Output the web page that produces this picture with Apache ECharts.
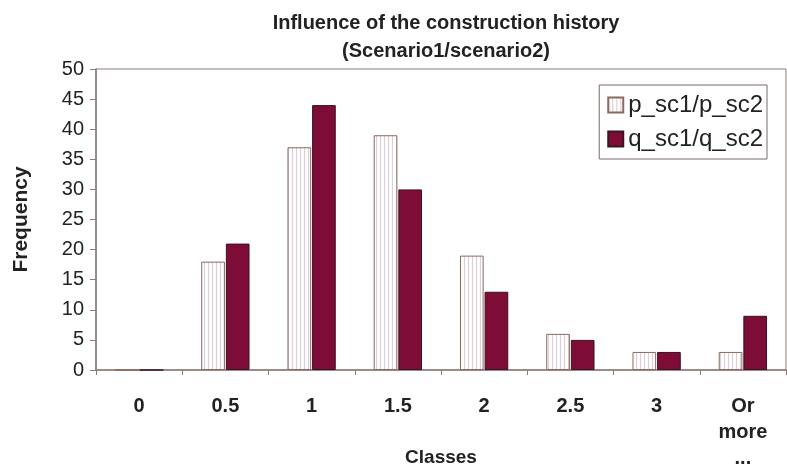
<!DOCTYPE html>
<html>
<head>
<meta charset="utf-8">
<script src="https://cdn.jsdelivr.net/npm/echarts@6/dist/echarts.min.js"></script>
<style>
  html, body { margin: 0; padding: 0; background: #fff; }
  #main { width: 787px; height: 473px; }
</style>
</head>
<body>
<div id="main"></div>
<script>
// data
const classes = ["0", "0.5", "1", "1.5", "2", "2.5", "3", "Or\nmore\n..."];
const pValues = [0, 18, 37, 39, 19, 6, 3, 3];
const qValues = [0, 21, 44, 30, 13, 5, 3, 9];
const yTicks = [0, 5, 10, 15, 20, 25, 30, 35, 40, 45, 50];

// white bars with thin vertical hatching
const makeHatch = () => {
  const c = document.createElement("canvas");
  c.width = 4;
  c.height = 4;
  const ctx = c.getContext("2d");
  ctx.fillStyle = "#fdfbfc";
  ctx.fillRect(0, 0, 4, 4);
  ctx.fillStyle = "#d9cfd6";
  ctx.fillRect(0, 0, 1, 4);
  return c;
};

const font = "'Liberation Sans Narrow', 'Liberation Sans', Arial, sans-serif";
const myChart = echarts.init(document.getElementById("main"));

const option = {
  animation: false,
  backgroundColor: "#fff",
  title: {
    text: "Influence of the construction history\n(Scenario1/scenario2)",
    left: 441,
    top: 4,
    textAlign: "center",
    textStyle: {
      fontFamily: font,
      fontWeight: "bold",
      fontSize: 20,
      lineHeight: 28,
      color: "#222",
    },
  },
  legend: {
    right: 20,
    top: 85,
    orient: "vertical",
    icon: "rect",
    itemWidth: 15,
    itemHeight: 15,
    itemGap: 10,
    padding: [8, 4, 8, 8],
    borderColor: "#7a6a66",
    borderWidth: 1,
    textStyle: { fontFamily: "'Liberation Sans', Arial, sans-serif", fontSize: 24, color: "#222" },
    data: ["p_sc1/p_sc2", "q_sc1/q_sc2"],
  },
  grid: {
    left: 96,
    right: 1,
    top: 69,
    bottom: 103,
    containLabel: false,
    outerBoundsMode: "none",
    show: true,
    borderColor: "#8a7c78",
    borderWidth: 1,
  },
  xAxis: {
    type: "category",
    data: classes,
    name: "Classes",
    nameLocation: "middle",
    nameGap: 78,
    nameMoveOverlap: false,
    nameTextStyle: { fontFamily: font, fontWeight: "bold", fontSize: 19, color: "#222" },
    axisLine: { lineStyle: { color: "#8a7c78", width: 1.5 } },
    axisTick: { show: true, length: 5, lineStyle: { color: "#8a7c78" } },
    axisLabel: {
      fontFamily: font,
      fontWeight: "bold",
      fontSize: 20,
      color: "#222",
      margin: 23,
      lineHeight: 26,
      verticalAlign: "top",
    },
  },
  yAxis: {
    type: "value",
    min: 0,
    max: 50,
    interval: 5,
    name: "Frequency",
    nameLocation: "middle",
    nameGap: 64,
    nameMoveOverlap: false,
    nameTextStyle: { fontFamily: font, fontWeight: "bold", fontSize: 21, color: "#222" },
    axisLine: { show: true, lineStyle: { color: "#8a7c78", width: 1.5 } },
    axisTick: { show: true, length: 6, lineStyle: { color: "#8a7c78" } },
    splitLine: { show: false },
    axisLabel: {
      fontFamily: "'Liberation Sans', Arial, sans-serif",
      fontSize: 20,
      color: "#222",
      margin: 12,
      formatter: (v) => (yTicks.includes(v) ? String(v) : ""),
    },
  },
  series: [
    {
      name: "p_sc1/p_sc2",
      type: "bar",
      data: pValues,
      barGap: "4%",
      barCategoryGap: "44%",
      itemStyle: {
        color: { image: makeHatch(), repeat: "repeat" },
        borderColor: "#8a6a62",
        borderWidth: 1,
      },
    },
    {
      name: "q_sc1/q_sc2",
      type: "bar",
      data: qValues,
      itemStyle: {
        color: "#7d0c36",
        borderColor: "#3a1420",
        borderWidth: 1,
      },
    },
  ],
};

myChart.setOption(option);
window.addEventListener("resize", () => myChart.resize());
</script>
</body>
</html>
